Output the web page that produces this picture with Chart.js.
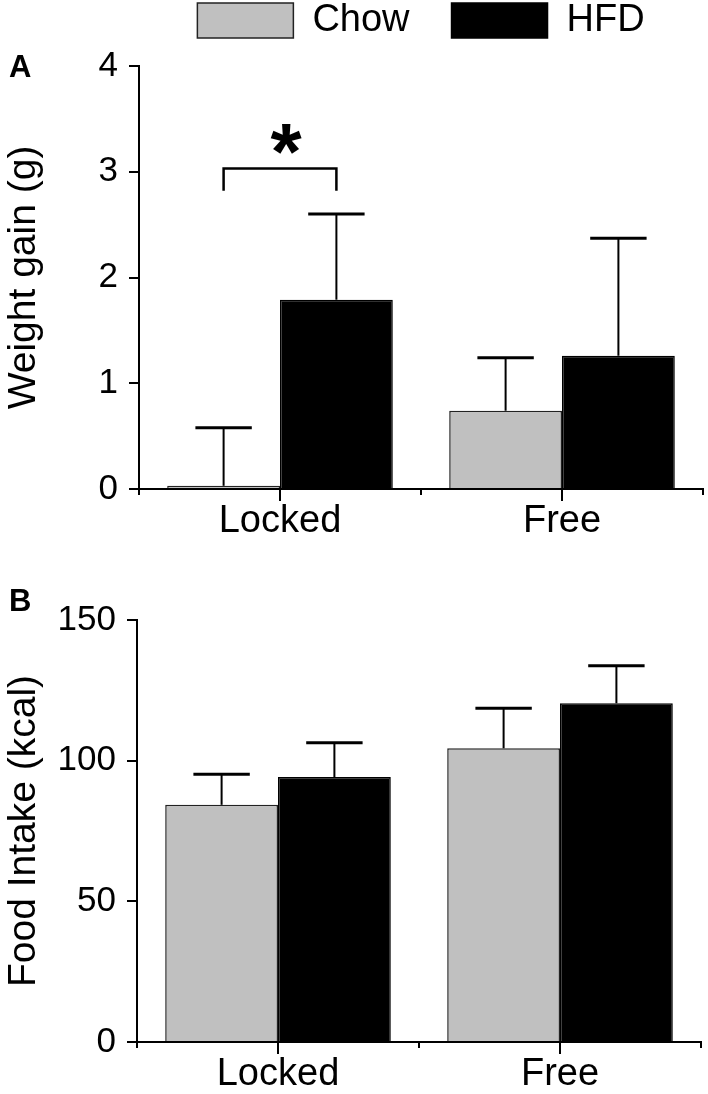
<!DOCTYPE html>
<html><head><meta charset="utf-8">
<script src="https://cdn.jsdelivr.net/npm/chart.js@4.4.1/dist/chart.umd.min.js"></script>
<style>
html,body{margin:0;padding:0;background:#fff}
#wrap{position:relative;width:708px;height:1094px;overflow:hidden}
canvas{position:absolute;left:0}
</style></head><body>
<div id="wrap">
<canvas id="chartA" width="708" height="560" style="top:0;width:708px;height:560px"></canvas>
<canvas id="chartB" width="708" height="534" style="top:560px;width:708px;height:534px"></canvas>
</div>
<script>
// ---- data ----
const categories = ['Locked', 'Free'];
const seriesNames = ['Chow', 'HFD'];
const weightGainChow = [0.03, 0.74];
const weightGainChowSem = [0.55, 0.50];
const weightGainHFD = [1.79, 1.26];
const weightGainHFDSem = [0.81, 1.11];
const foodIntakeChow = [84.3, 104.4];
const foodIntakeChowSem = [10.9, 14.2];
const foodIntakeHFD = [94.2, 120.4];
const foodIntakeHFDSem = [12.2, 13.3];
const weightTicks = [0, 1, 2, 3, 4];
const intakeTicks = [0, 50, 100, 150];
const sigBracket = [2.82, 3.03];   // leg bottom, bracket top (g)
const sigStar = 3.31;              // star centre (g)
const sigText = '*';

// ---- style ----
const FONT = '"Liberation Sans", Arial, Helvetica, sans-serif';
const CHOW_COLOR = '#c0c0c0';
const HFD_COLOR = '#000000';
Chart.defaults.font.family = FONT;
Chart.defaults.color = '#000';

const errorBarPlugin = {
  id: 'errorBars',
  afterDatasetsDraw(chart, args, opts) {
    const ctx = chart.ctx, y = chart.scales.y;
    chart.data.datasets.forEach((ds, i) => {
      const meta = chart.getDatasetMeta(i);
      const errs = opts.errors[i];
      meta.data.forEach((bar, j) => {
        const top = y.getPixelForValue(ds.data[j] + errs[j]);
        const half = bar.width * opts.capRatio / 2;
        ctx.save();
        ctx.strokeStyle = '#000';
        ctx.lineWidth = 2;
        ctx.beginPath(); ctx.moveTo(bar.x, bar.y); ctx.lineTo(bar.x, top); ctx.stroke();
        ctx.lineWidth = 3;
        ctx.beginPath(); ctx.moveTo(bar.x - half, top); ctx.lineTo(bar.x + half, top); ctx.stroke();
        ctx.restore();
      });
    });
  }
};

const centerTickPlugin = {
  id: 'centerTicks',
  afterDraw(chart, args, opts) {
    const ctx = chart.ctx, x = chart.scales.x;
    ctx.save();
    ctx.strokeStyle = '#000'; ctx.lineWidth = 2;
    categories.forEach((c, i) => {
      const px = x.getPixelForValue(i);
      ctx.beginPath(); ctx.moveTo(px, x.top); ctx.lineTo(px, x.top + opts.length); ctx.stroke();
    });
    ctx.restore();
  }
};

const sigPlugin = {
  id: 'significance',
  afterDraw(chart, args, opts) {
    const ctx = chart.ctx, y = chart.scales.y;
    const b0 = chart.getDatasetMeta(0).data[opts.index];
    const b1 = chart.getDatasetMeta(1).data[opts.index];
    const yTop = y.getPixelForValue(sigBracket[1]);
    const yBot = y.getPixelForValue(sigBracket[0]);
    ctx.save();
    ctx.strokeStyle = '#000'; ctx.lineWidth = 2.5; ctx.lineCap = 'butt';
    ctx.beginPath();
    ctx.moveTo(b0.x, yBot); ctx.lineTo(b0.x, yTop); ctx.lineTo(b1.x, yTop); ctx.lineTo(b1.x, yBot);
    ctx.stroke();
    ctx.fillStyle = '#000';
    ctx.font = 'bold ' + opts.size + 'px ' + FONT;
    ctx.textAlign = 'center'; ctx.textBaseline = 'alphabetic';
    const m = ctx.measureText(sigText);
    const cy = y.getPixelForValue(sigStar);
    const by = cy - (m.actualBoundingBoxDescent - m.actualBoundingBoxAscent) / 2;
    ctx.fillText(sigText, (b0.x + b1.x) / 2 + opts.dx, by);
    ctx.restore();
  }
};

function buildChart(id, cfg) {
  return new Chart(document.getElementById(id), {
    type: 'bar',
    data: {
      labels: categories,
      datasets: [
        { label: seriesNames[0], data: cfg.chow, backgroundColor: CHOW_COLOR, borderColor: '#222', borderWidth: 1.5 },
        { label: seriesNames[1], data: cfg.hfd, backgroundColor: HFD_COLOR, borderColor: '#000', borderWidth: 1.5 }
      ]
    },
    options: {
      responsive: false, devicePixelRatio: 1, animation: false,
      datasets: { bar: { categoryPercentage: 0.8, barPercentage: 1.0 } },
      layout: { padding: cfg.padding },
      plugins: {
        tooltip: { enabled: false },
        legend: cfg.legend,
        title: cfg.title,
        errorBars: { errors: [cfg.chowErr, cfg.hfdErr], capRatio: 0.5 },
        centerTicks: { length: 12 },
        significance: cfg.sig || {}
      },
      scales: {
        x: {
          offset: true,
          grid: { display: true, drawOnChartArea: false, drawTicks: true, tickLength: 6, color: '#000', lineWidth: 2, offset: true },
          border: { display: true, color: '#000', width: 2 },
          ticks: { color: '#000', font: { size: 38 }, padding: 4, maxRotation: 0 },
          afterFit(s) { s.height = cfg.xHeight; }
        },
        y: {
          min: cfg.ticks[0], max: cfg.ticks[cfg.ticks.length - 1],
          afterBuildTicks(s) { s.ticks = cfg.ticks.map(v => ({ value: v })); },
          grid: { display: true, drawOnChartArea: false, drawTicks: true, tickLength: 10, color: '#000', lineWidth: 2 },
          border: { display: true, color: '#000', width: 2 },
          ticks: { color: '#000', font: { size: 35 }, padding: 11 },
          title: { display: true, text: cfg.yTitle, color: '#000', font: { size: 39 }, padding: { top: -8, bottom: 0 } },
          afterFit(s) { s.width = cfg.yWidth; }
        }
      }
    },
    plugins: [errorBarPlugin, centerTickPlugin].concat(cfg.sig ? [sigPlugin] : [])
  });
}

buildChart('chartA', {
  chow: weightGainChow, hfd: weightGainHFD, chowErr: weightGainChowSem, hfdErr: weightGainHFDSem,
  ticks: weightTicks, yTitle: 'Weight gain (g)',
  padding: { top: -40.5, left: 9, right: 5, bottom: 0 },
  xHeight: 71, yWidth: 130,
  legend: {
    display: true, position: 'top', fullSize: false,
    labels: { boxWidth: 96, boxHeight: 35, padding: 42, color: '#000', font: { size: 38 } }
  },
  title: { display: true, text: 'A', align: 'start', weight: 500, color: '#000',
           font: { size: 31, weight: 'bold' }, padding: { top: 0.4, bottom: -21.1 } },
  sig: { index: 0, size: 80, dx: 6 }
});

buildChart('chartB', {
  chow: foodIntakeChow, hfd: foodIntakeHFD, chowErr: foodIntakeChowSem, hfdErr: foodIntakeHFDSem,
  ticks: intakeTicks, yTitle: 'Food Intake (kcal)',
  padding: { top: 0, left: 9, right: 7, bottom: 0 },
  xHeight: 52, yWidth: 128,
  legend: { display: false },
  title: { display: true, text: 'B', align: 'start', color: '#000',
           font: { size: 31, weight: 'bold' }, padding: { top: 24, bottom: -1.2 } }
});
</script>
</body></html>
